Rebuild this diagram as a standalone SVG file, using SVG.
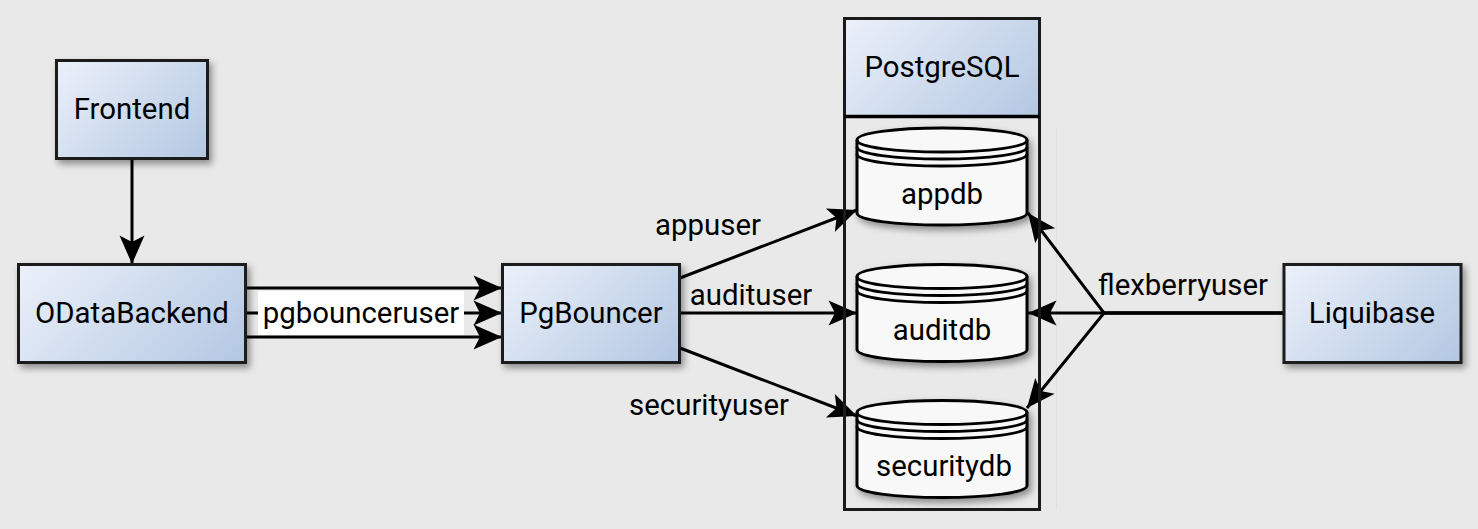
<svg xmlns="http://www.w3.org/2000/svg" width="1478" height="529" viewBox="0 0 1478 529">
<style>
text{font-family:Roboto,"Liberation Sans",sans-serif;font-size:29.4px;fill:#000;text-anchor:middle}
.b{stroke:#1a1a1a;stroke-width:3;filter:url(#s)}
.c{fill:#f8f8f8;stroke:#000;stroke-width:3;filter:url(#s)}
.n{fill:none;stroke:#1a1a1a;stroke-width:3}
.l{fill:none;stroke:#000;stroke-width:3;marker-end:url(#a)}
.p{fill:none;stroke:#000;stroke-width:3}
</style>
<defs>
<linearGradient id="g"><stop offset="0" stop-color="#ecf1fa"/><stop offset="1" stop-color="#b3c7e2"/></linearGradient>
<linearGradient id="g1" href="#g" gradientUnits="userSpaceOnUse" x1="56" y1="60" x2="181" y2="185"/>
<linearGradient id="g2" href="#g" gradientUnits="userSpaceOnUse" x1="18" y1="264" x2="181" y2="427"/>
<linearGradient id="g3" href="#g" gradientUnits="userSpaceOnUse" x1="502" y1="264" x2="640" y2="402"/>
<linearGradient id="g4" href="#g" gradientUnits="userSpaceOnUse" x1="1284" y1="264" x2="1422" y2="402"/>
<linearGradient id="g5" href="#g" gradientUnits="userSpaceOnUse" x1="844" y1="18" x2="991" y2="165"/>
<filter id="s" x="-15%" y="-15%" width="135%" height="135%"><feDropShadow dx="3" dy="4" stdDeviation="3.500" flood-color="#000" flood-opacity="0.4"/></filter>
<marker id="a" markerUnits="userSpaceOnUse" markerWidth="34" markerHeight="30" viewBox="-2 -15 34 30" refX="28" refY="0" orient="auto"><path d="M28 0L-0.500 -12.500L6 0L-0.500 12.500Z" fill="#000"/></marker>
<path id="cyl" d="M0 12C0 5 38 0 85 0S170 5 170 12V85C170 92 132 97 85 97S0 92 0 85Z"/>
<path id="cylr" d="M0 12C0 19 38 24 85 24S170 19 170 12M0 19C0 26 38 31 85 31S170 26 170 19M0 26C0 33 38 38 85 38S170 33 170 26"/>
</defs>
<rect width="1478" height="529" fill="#e9e9e9"/>
<rect x="1056" y="128" width="1" height="382" fill="#e1e1e1"/>
<g id="connectors">
<path class="l" d="M132 158V264"/>
<path class="l" d="M246 288H502"/>
<path class="l" d="M246 313H502"/>
<path class="l" d="M246 337H502"/>
<path class="l" d="M680 278L857 210"/>
<path class="l" d="M680 313H857"/>
<path class="l" d="M680 348L857 416"/>
<path class="l" d="M1284 313H1104L1028 213"/>
<path class="l" d="M1284 313H1028"/>
<path class="l" d="M1284 313H1104L1027 408"/>
</g>
<g id="frontend"><rect class="b" fill="url(#g1)" x="56.500" y="60.500" width="151" height="98"/><text x="132" y="118.500">Frontend</text></g>
<g id="odatabackend"><rect class="b" fill="url(#g2)" x="18.500" y="264.500" width="227" height="98"/><text x="132" y="322.500">ODataBackend</text></g>
<g id="pgbouncer"><rect class="b" fill="url(#g3)" x="502.500" y="264.500" width="177" height="98"/><text x="591" y="322.500">PgBouncer</text></g>
<g id="liquibase"><rect class="b" fill="url(#g4)" x="1284" y="264.500" width="177" height="98"/><text x="1372" y="322.500">Liquibase</text></g>
<g id="postgresql"><rect x="844.500" y="18.500" width="195" height="98" fill="url(#g5)"/><rect class="n" x="844.500" y="18.500" width="195" height="491"/><path d="M844.500 116.500H1039.500" stroke="#000" stroke-width="3.500"/><text x="942" y="77">PostgreSQL</text></g>
<g id="appdb" transform="translate(857 128)"><use href="#cyl" class="c"/><use href="#cylr" class="p"/><text x="85" y="75.500">appdb</text></g>
<g id="auditdb" transform="translate(857 264.500)"><use href="#cyl" class="c"/><use href="#cylr" class="p"/><text x="85" y="75">auditdb</text></g>
<g id="securitydb" transform="translate(857 400.500)"><use href="#cyl" class="c"/><use href="#cylr" class="p"/><text x="87" y="75.500">securitydb</text></g>
<g id="labels">
<rect x="258" y="291" width="206" height="44" fill="#fff"/>
<text x="361" y="323">pgbounceruser</text>
<text x="708" y="235">appuser</text>
<text x="751" y="305">audituser</text>
<text x="709" y="415">securityuser</text>
<text x="1183" y="295">flexberryuser</text>
</g>
</svg>
